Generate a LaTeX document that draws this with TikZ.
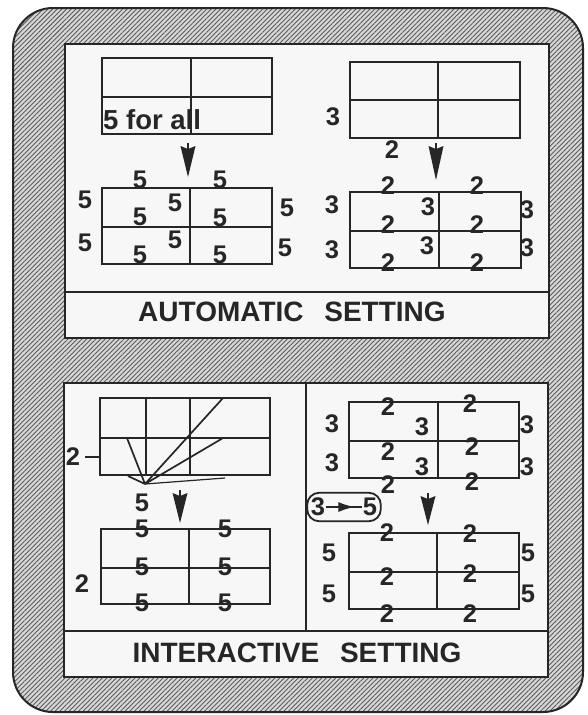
\documentclass[tikz,border=0pt]{standalone}
\usepackage{fontspec}
\setmainfont{Liberation Sans}
\usetikzlibrary{patterns.meta,arrows.meta,fit,decorations.markings,calc}
\definecolor{ink}{gray}{0.15}
\definecolor{hatchbg}{gray}{0.84}
\definecolor{hatchln}{gray}{0.36}
\definecolor{paper}{gray}{0.97}
\newcommand\grd[6]{\draw[gridln] (#1,#2) rectangle (#3,#4) (#1,#5) -- (#3,#5) (#6,#2) -- (#6,#4);}
% long narrow down arrow from start coordinate #1 to tip coordinate #2
\newcommand\dnarrow[2]{%
  \draw[ink, line width=2pt] (#1) -- ($(#1)+(0,8)$);
  \fill[ink] ($(#1)+(-7.5,3)$) -- ($(#1)+(0,6)$) -- ($(#1)+(7.5,3)$) -- (#2) -- cycle;}
\begin{document}
\begin{tikzpicture}[x=1pt,y=-1pt,
  num/.style={font=\fontsize{25.5}{26}\selectfont\bfseries, inner sep=0pt, text=ink},
  gridln/.style={draw=ink, line width=1.9pt},
  panel/.style={draw=ink, line width=2.4pt, fill=paper},
  divider/.style={draw=ink, line width=2.4pt},
  title/.style={font=\fontsize{28}{28}\selectfont\bfseries, inner sep=0pt, text=ink},
  fan/.style={draw=ink, line width=1.7pt}]
\useasboundingbox (0,0) rectangle (588,715);
\fill[white] (0,0) rectangle (588,715);
% outer hatched frame
\fill[hatchbg, rounded corners=40pt] (13,8) rectangle (583,712);
\fill[pattern={Lines[angle=45,distance=3.3pt,line width=0.9pt]}, pattern color=hatchln, rounded corners=40pt] (13,8) rectangle (583,712);
\draw[ink, line width=2pt, rounded corners=40pt] (13,8) rectangle (583,712);
% panels
\draw[panel] (65,44) rectangle (549,338);
\draw[divider] (65,292) -- (549,292);
\draw[panel] (64,383) rectangle (548,677);
\draw[divider] (64,631) -- (548,631);
\draw[divider] (306,383) -- (306,631);
\node[title] (tAuto) at (292,312) {AUTOMATIC\hspace{13pt} SETTING};
\node[title] (tInter) at (297,653) {INTERACTIVE\hspace{13pt} SETTING};

% ---------- A: automatic, uniform ----------
\grd{102}{58}{272}{134}{97}{191}
\node[font=\fontsize{27.5}{28}\selectfont\bfseries, inner sep=0pt, text=ink, anchor=base west] (forall) at (103,129) {5 for all};
\coordinate (aAs) at (188,143); \coordinate (aAe) at (188,177);
\dnarrow{aAs}{aAe}
\grd{102}{188}{272}{264}{227}{190}
\node[num] (a1) at (140,180) {5};
\node[num] (a2) at (220,180) {5};
\node[num] (a3) at (85,200) {5};
\node[num] (a4) at (85,243) {5};
\node[num] (a5) at (175,203) {5};
\node[num] (a6) at (175,240) {5};
\node[num] (a7) at (287,208) {5};
\node[num] (a8) at (285,248) {5};
\node[num] (a9) at (140,217) {5};
\node[num] (a10) at (220,218) {5};
\node[num] (a11) at (140,255) {5};
\node[num] (a12) at (220,255) {5};

% ---------- B: automatic, by edges ----------
\grd{350}{62}{520}{138}{100}{438}
\node[num] (b0a) at (333,117) {3};
\node[num] (b0b) at (392,150) {2};
\coordinate (bAs) at (436,143); \coordinate (bAe) at (436,180);
\dnarrow{bAs}{bAe}
\grd{350}{192}{521}{268}{231}{439}
\node[num] (b1) at (388,186) {2};
\node[num] (b2) at (477,186) {2};
\node[num] (b3) at (332,205) {3};
\node[num] (b4) at (332,250) {3};
\node[num] (b5) at (428,207) {3};
\node[num] (b6) at (427,246) {3};
\node[num] (b7) at (527,210) {3};
\node[num] (b8) at (527,248) {3};
\node[num] (b9) at (388,225) {2};
\node[num] (b10) at (477,225) {2};
\node[num] (b11) at (388,263) {2};
\node[num] (b12) at (477,263) {2};

% ---------- C: interactive, fan ----------
\draw[gridln] (100,398) rectangle (270,475) (100,438) -- (270,438) (146,398) -- (146,475) (190,398) -- (190,475);
\coordinate (P) at (145,484);
\coordinate (f1) at (127,438);
\coordinate (f2) at (128,476);
\coordinate (f3) at (223,398);
\coordinate (f4) at (223,438);
\coordinate (f5) at (225,478);
\draw[fan] (P) -- (f1) (P) -- (f2) (P) -- (f3) (P) -- (f4);
\draw[fan, line width=1.2pt] (P) -- (f5);
\node[num] (c0) at (73,457) {2};
\coordinate (ctick) at (100,457);
\draw[fan, line width=1.3pt] ([xshift=5pt]c0.east) -- (ctick);
\node[num] (c0b) at (142,503) {5};
\coordinate (cAs) at (180,490); \coordinate (cAe) at (180,523);
\dnarrow{cAs}{cAe}
\grd{101}{529}{270}{604}{568}{189}
\node[num] (c1) at (142,529) {5};
\node[num] (c2) at (225,529) {5};
\node[num] (c3) at (142,567) {5};
\node[num] (c4) at (225,567) {5};
\node[num] (c5) at (142,603) {5};
\node[num] (c6) at (225,603) {5};
\node[num] (c7) at (82,584) {2};

% ---------- D: interactive, change ----------
\grd{349}{402}{519}{478}{441}{438}
\node[num] (d1) at (388,407) {2};
\node[num] (d2) at (470,404) {2};
\node[num] (d3) at (332,424) {3};
\node[num] (d4) at (332,463) {3};
\node[num] (d5) at (422,427) {3};
\node[num] (d6) at (422,467) {3};
\node[num] (d7) at (527,425) {3};
\node[num] (d8) at (527,467) {3};
\node[num] (d9) at (388,452) {2};
\node[num] (d10) at (472,447) {2};
\node[num] (d11) at (388,485) {2};
\node[num] (d12) at (472,482) {2};
\node[num] (x3) at (318,507) {3};
\node[num] (x5) at (370,507) {5};
\draw[ink, line width=1.8pt, shorten <=1pt, shorten >=1pt,
  postaction={decorate, decoration={markings, mark=at position 0.78 with {\arrow{Latex[length=16pt,width=10pt]}}}}] (x3) -- (x5);
\node[fit=(x3)(x5), draw=ink, line width=1.8pt, rounded corners=12pt, inner xsep=3.5pt, inner ysep=5pt] (box35) {};
\coordinate (dAs) at (428,493); \coordinate (dAe) at (428,525);
\dnarrow{dAs}{dAe}
\grd{349}{533}{519}{609}{572}{437}
\node[num] (e1) at (387,533) {2};
\node[num] (e2) at (470,534) {2};
\node[num] (e3) at (329,553) {5};
\node[num] (e4) at (329,594) {5};
\node[num] (e5) at (528,553) {5};
\node[num] (e6) at (528,594) {5};
\node[num] (e7) at (387,577) {2};
\node[num] (e8) at (470,574) {2};
\node[num] (e9) at (387,614) {2};
\node[num] (e10) at (470,614) {2};
\end{tikzpicture}
\end{document}
